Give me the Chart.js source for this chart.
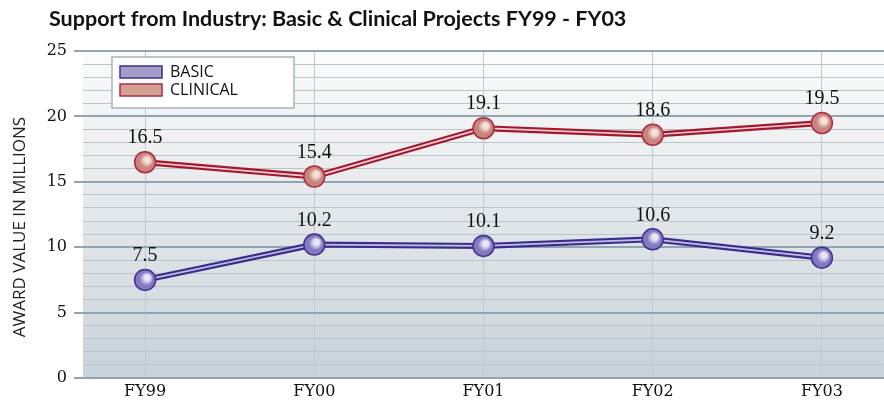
<!DOCTYPE html>
<html><head><meta charset="utf-8">
<script src="https://cdn.jsdelivr.net/npm/chart.js@4.4.1/dist/chart.umd.min.js"></script>
<style>html,body{margin:0;padding:0;background:#fff}#wrap{width:884px;height:402px;position:relative}</style>
</head><body><div id="wrap"><canvas id="c" width="884" height="402"></canvas></div>
<script>
const categories = ['FY99','FY00','FY01','FY02','FY03'];
const basicValues = [7.5, 10.2, 10.1, 10.6, 9.2];
const clinicalValues = [16.5, 15.4, 19.1, 18.6, 19.5];
const yTickLabels = [0, 5, 10, 15, 20, 25];
const seriesNames = ['BASIC', 'CLINICAL'];
const titleText = 'Support from Industry: Basic & Clinical Projects FY99 - FY03';
const yAxisTitle = 'AWARD VALUE IN MILLIONS';

const styles = {
  basic:    {dark:'#3a2e8a', light:'#c4bdea', fill:'#8479c0', hi:'#e9e6f8', edge:'#3b3190', swatch:'#a69dcb'},
  clinical: {dark:'#a3182f', light:'#f5d0d0', fill:'#c7857b', hi:'#f5e0da', edge:'#ad2c45', swatch:'#d4a190'}
};
const toPts = arr => arr.map((v, i) => ({x: i, y: v}));

function pointFill(st) {
  return ctx => {
    const ch = ctx.chart, xs = ch.scales.x, ys = ch.scales.y;
    if (!xs || !ys || ctx.type !== 'data' || !ctx.raw) return st.fill;
    const x = xs.getPixelForValue(ctx.raw.x), y = ys.getPixelForValue(ctx.raw.y);
    if (!isFinite(x) || !isFinite(y)) return st.fill;
    const g = ch.ctx.createRadialGradient(x + 3, y - 3, 0.5, x, y, 11);
    g.addColorStop(0, st.hi);
    g.addColorStop(0.22, st.hi);
    g.addColorStop(0.6, st.fill);
    g.addColorStop(1, st.fill);
    return g;
  };
}

const bgPlugin = {
  id: 'bg',
  beforeDraw(chart) {
    const {ctx, chartArea: a} = chart;
    ctx.save();
    ctx.fillStyle = '#fff';
    ctx.fillRect(0, 0, chart.width, chart.height);
    const g = ctx.createLinearGradient(0, a.top, 0, a.bottom);
    g.addColorStop(0, '#fbfbfb');
    g.addColorStop(0.45, '#e6e9eb');
    g.addColorStop(1, '#c9d2da');
    ctx.fillStyle = g;
    ctx.fillRect(a.left, a.top, a.right - a.left, a.bottom - a.top);
    ctx.restore();
  }
};

const labelPlugin = {
  id: 'vlabels',
  afterDatasetsDraw(chart) {
    const ctx = chart.ctx;
    ctx.save();
    ctx.font = '20px "Liberation Serif"';
    ctx.fillStyle = '#111';
    ctx.textAlign = 'center';
    ctx.textBaseline = 'middle';
    chart.data.datasets.forEach((ds, di) => {
      if (!ds.showLabels) return;
      chart.getDatasetMeta(di).data.forEach((el, i) => {
        ctx.fillText(ds.data[i].y.toFixed(1), el.x, el.y - 24);
      });
    });
    ctx.restore();
  }
};

const decoPlugin = {
  id: 'deco',
  afterDraw(chart) {
    const ctx = chart.ctx;
    ctx.save();
    // title
    ctx.font = 'bold 21.5px Lato';
    ctx.fillStyle = '#111';
    ctx.textAlign = 'left';
    ctx.textBaseline = 'middle';
    ctx.fillText(titleText, 49, 19);
    // y axis title
    ctx.save();
    ctx.translate(20, 227);
    ctx.rotate(-Math.PI / 2);
    ctx.textAlign = 'center';
    ctx.font = '17px "Open Sans"';
    ctx.fillStyle = '#222';
    ctx.fillText(yAxisTitle, 0, 0);
    ctx.restore();
    // legend
    ctx.fillStyle = '#fff';
    ctx.fillRect(112, 57, 182, 51);
    ctx.strokeStyle = '#a3b5c0';
    ctx.lineWidth = 1.5;
    ctx.strokeRect(112, 57, 182, 51);
    const keys = ['basic', 'clinical'];
    seriesNames.forEach((name, i) => {
      const st = styles[keys[i]];
      const y = 66 + i * 18;
      ctx.fillStyle = st.swatch;
      ctx.fillRect(120, y, 42, 12);
      ctx.strokeStyle = st.edge;
      ctx.lineWidth = 1.5;
      ctx.strokeRect(120, y, 42, 12);
      ctx.fillStyle = '#111';
      ctx.font = '16px "Open Sans"';
      ctx.textBaseline = 'middle';
      ctx.textAlign = 'left';
      ctx.fillText(name, 170, y + 6.5);
    });
    ctx.restore();
  }
};

new Chart(document.getElementById('c'), {
  type: 'line',
  data: {
    datasets: [
      {label: seriesNames[0], data: toPts(basicValues), order: 0, showLabels: true,
       borderColor: styles.basic.light, borderWidth: 1.6, pointRadius: 10.5,
       pointBackgroundColor: pointFill(styles.basic), pointBorderColor: styles.basic.edge, pointBorderWidth: 1.5},
      {label: seriesNames[1], data: toPts(clinicalValues), order: 0, showLabels: true,
       borderColor: styles.clinical.light, borderWidth: 1.6, pointRadius: 10.5,
       pointBackgroundColor: pointFill(styles.clinical), pointBorderColor: styles.clinical.edge, pointBorderWidth: 1.5},
      {label: seriesNames[0] + ' outline', data: toPts(basicValues), order: 1,
       borderColor: styles.basic.dark, borderWidth: 6, pointRadius: 0},
      {label: seriesNames[1] + ' outline', data: toPts(clinicalValues), order: 1,
       borderColor: styles.clinical.dark, borderWidth: 6, pointRadius: 0}
    ]
  },
  options: {
    responsive: false,
    animation: false,
    layout: {autoPadding: false, padding: {top: 51, left: 0, right: 0, bottom: 0}},
    plugins: {legend: {display: false}, tooltip: {enabled: false}, title: {display: false}},
    scales: {
      x: {
        type: 'linear', min: -0.367, max: 4.367,
        afterBuildTicks: s => { s.ticks = categories.map((_, i) => ({value: i})); },
        afterFit: s => { s.height = 24; s.paddingLeft = 0; s.paddingRight = 0; },
        ticks: {callback: v => categories[v], font: {family: 'DejaVu Serif', size: 16}, color: '#111',
                padding: 4, autoSkip: false, maxRotation: 0},
        grid: {color: '#bfcbd3', lineWidth: 1, drawTicks: false},
        border: {display: false}
      },
      y: {
        min: 0, max: 25,
        afterBuildTicks: s => { const t = []; for (let v = 0; v <= 25; v++) t.push({value: v}); s.ticks = t; },
        afterFit: s => { s.width = 83; },
        ticks: {callback: v => yTickLabels.includes(v) ? String(v) : '', font: {family: 'DejaVu Serif', size: 16},
                color: '#111', padding: 7, autoSkip: false},
        grid: {
          color: c => (c.tick && c.tick.value % 5 === 0) ? '#8fa5b2' : '#b8c5cd',
          lineWidth: c => (c.tick && c.tick.value % 5 === 0) ? 2 : 1,
          tickColor: c => (c.tick && c.tick.value % 5 === 0) ? '#8fa5b2' : 'rgba(0,0,0,0)',
          tickLength: 9, drawTicks: true
        },
        border: {display: false},
        title: {display: false}
      }
    }
  },
  plugins: [bgPlugin, labelPlugin, decoPlugin]
});
</script></body></html>
